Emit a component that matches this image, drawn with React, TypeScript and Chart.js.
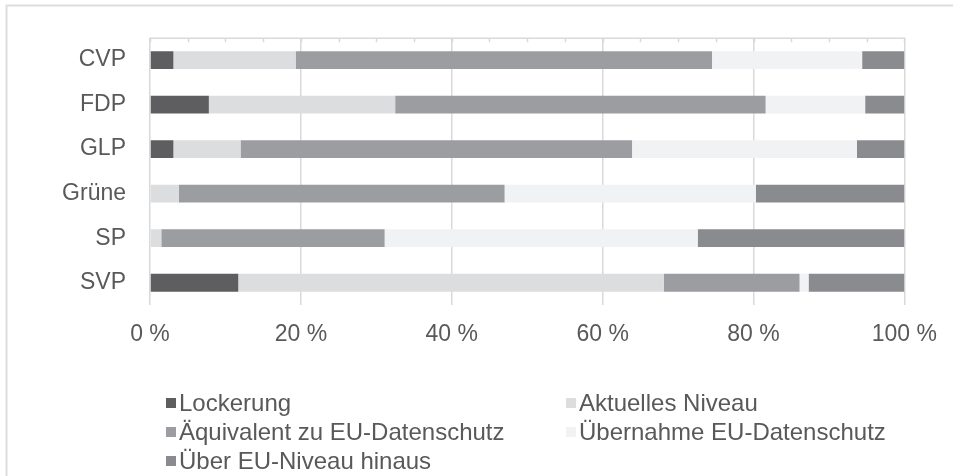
import { useEffect, useRef } from "react";
import { Chart, registerables } from "chart.js";

Chart.register(...registerables);

const categories = ["CVP", "FDP", "GLP", "Grüne", "SP", "SVP"];
const seriesNames = [
  "Lockerung",
  "Aktuelles Niveau",
  "Äquivalent zu EU-Datenschutz",
  "Übernahme EU-Datenschutz",
  "Über EU-Niveau hinaus",
];
const lockerung = [3.1, 7.8, 3.1, 0, 0, 11.7];
const aktuellesNiveau = [16.2, 24.7, 8.9, 3.8, 1.5, 56.4];
const aequivalent = [55.2, 49.1, 51.9, 43.2, 29.6, 18.0];
const uebernahme = [19.9, 13.2, 29.8, 33.3, 41.5, 1.2];
const ueberEU = [5.6, 5.2, 6.3, 19.7, 27.4, 12.7];
const xTickValues = [0, 20, 40, 60, 80, 100];
const minorStep = 5;

const colors = ["#5e5e61", "#dcdddf", "#9c9da0", "#f1f2f3", "#8a8b8f"];
const FONT = "'Liberation Sans', Arial, sans-serif";
const TEXT = "#595959";
const GRID = "#d9d9d9";

const decorPlugin = {
  id: "decor",
  beforeDraw(chart: any) {
    const { ctx } = chart;
    ctx.save();
    ctx.strokeStyle = "#dedede";
    ctx.lineWidth = 2;
    ctx.strokeRect(6.5, 5.5, 1100, 600);
    ctx.restore();
  },
  afterDraw(chart: any) {
    const { ctx, chartArea, scales } = chart;
    const x = scales.x;
    ctx.save();
    ctx.strokeStyle = GRID;
    ctx.lineWidth = 1.5;
    ctx.beginPath();
    ctx.moveTo(chartArea.left, chartArea.top + 0.5);
    ctx.lineTo(chartArea.right, chartArea.top + 0.5);
    for (let v = 0; v <= 100; v += minorStep) {
      const px = Math.round(x.getPixelForValue(v)) + 0.5;
      ctx.moveTo(px, chartArea.top);
      ctx.lineTo(px, chartArea.top + 4.5);
    }
    ctx.stroke();

    // legend
    const ds = chart.data.datasets;
    const colX = [166, 566];
    const rowY = [403, 432, 461];
    ctx.font = `24px ${FONT}`;
    ctx.textBaseline = "middle";
    ctx.textAlign = "left";
    ds.forEach((d: any, i: number) => {
      const cx = colX[i % 2];
      const cy = rowY[Math.floor(i / 2)];
      ctx.fillStyle = d.backgroundColor;
      ctx.fillRect(cx, cy - 5, 10, 10);
      ctx.fillStyle = TEXT;
      ctx.fillText(d.label, cx + 13, cy + 1);
    });
    ctx.restore();
  },
};

export default function App() {
  const ref = useRef<HTMLCanvasElement>(null);
  useEffect(() => {
    document.body.style.margin = "0";
    const values = [lockerung, aktuellesNiveau, aequivalent, uebernahme, ueberEU];
    const chart = new Chart(ref.current!, {
      type: "bar",
      data: {
        labels: categories,
        datasets: seriesNames.map((name, i) => ({
          label: name,
          data: values[i],
          backgroundColor: colors[i],
          borderWidth: 0,
          barPercentage: 0.4,
          categoryPercentage: 1,
        })),
      },
      options: {
        indexAxis: "y",
        responsive: false,
        animation: false,
        layout: { padding: { top: 22, right: 45, bottom: 0, left: 0 } },
        plugins: { legend: { display: false }, tooltip: { enabled: false } },
        scales: {
          x: {
            stacked: true,
            min: 0,
            max: 100,
            afterBuildTicks: (scale: any) => {
              scale.ticks = xTickValues.map((v) => ({ value: v }));
            },
            afterFit: (scale: any) => {
              scale.height = 171;
            },
            ticks: {
              callback: (v: any) => `${v} %`,
              color: TEXT,
              font: { family: FONT, size: 23 },
              padding: 16,
              maxRotation: 0,
            },
            grid: { color: GRID, lineWidth: 1.5, drawTicks: false },
            border: { display: false },
          },
          y: {
            stacked: true,
            afterFit: (scale: any) => {
              scale.width = 150;
            },
            ticks: {
              color: TEXT,
              font: { family: FONT, size: 23 },
              padding: 24,
            },
            grid: { display: false, drawTicks: false },
            border: { display: false },
          },
        },
      },
      plugins: [decorPlugin],
    });
    return () => chart.destroy();
  }, []);
  return (
    <div style={{ width: 953, height: 476 }}>
      <canvas ref={ref} width={953} height={476} />
    </div>
  );
}
